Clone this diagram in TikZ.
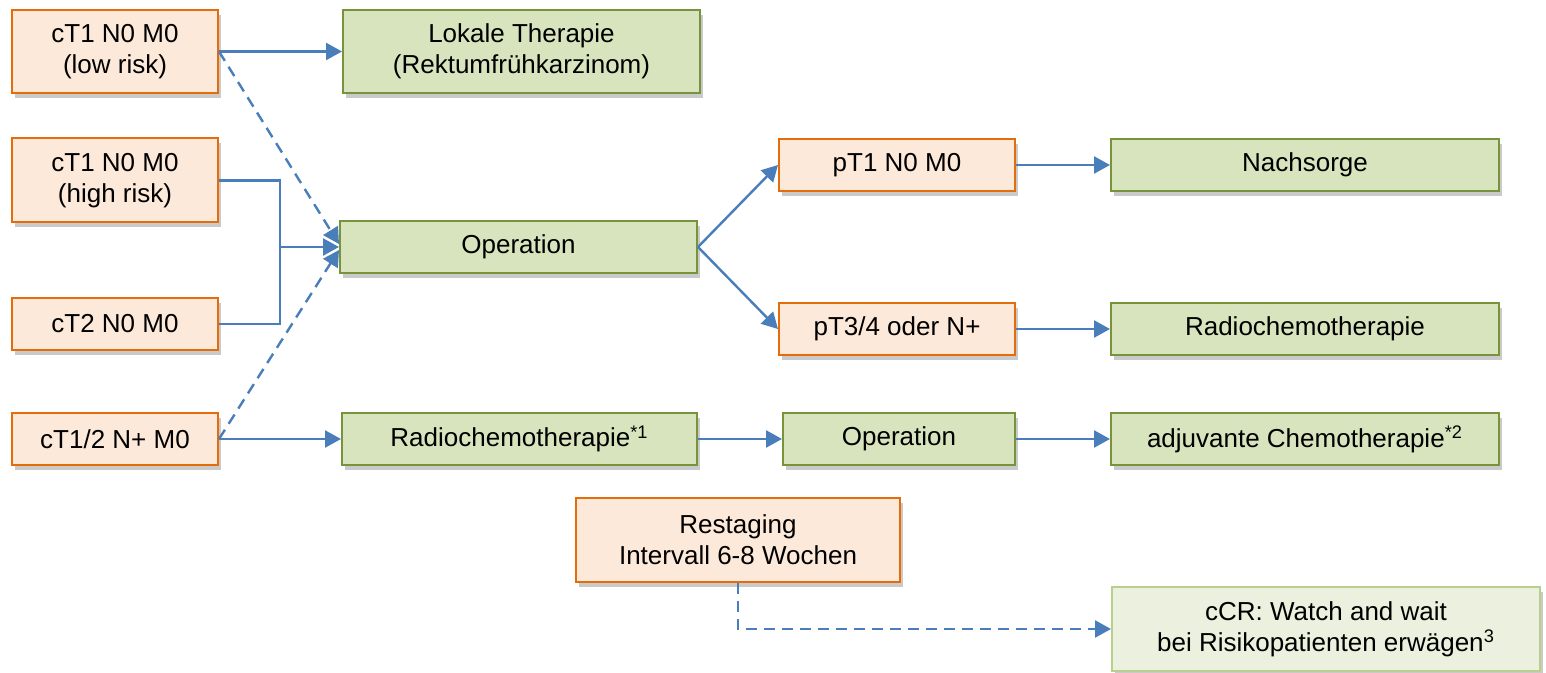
\documentclass[tikz,border=0pt]{standalone}
\usepackage{fontspec}
\setmainfont{Liberation Sans}
\usetikzlibrary{arrows.meta,shadows,positioning}
\definecolor{orfill}{HTML}{FDE9D9}
\definecolor{ordraw}{HTML}{E46C0A}
\definecolor{grfill}{HTML}{D7E4BD}
\definecolor{grdraw}{HTML}{77933C}
\definecolor{lgfill}{HTML}{EBF1DE}
\definecolor{lgdraw}{HTML}{B9CF8C}
\definecolor{arr}{HTML}{4A7EBB}
\tikzset{
  box/.style={rectangle, align=center, inner sep=0pt, line width=1pt,
    font=\fontsize{13}{15.5}\selectfont,
    drop shadow={shadow xshift=1.5pt, shadow yshift=-2.5pt, opacity=0.35, fill=black!60}},
  obox/.style={box, fill=orfill, draw=ordraw},
  gbox/.style={box, fill=grfill, draw=grdraw},
  lbox/.style={box, fill=lgfill, draw=lgdraw},
  conn/.style={draw=arr, line width=1.2pt, -{Triangle[length=8pt,width=8.5pt]}},
  plain/.style={draw=arr, line width=1.2pt},
  dconn/.style={conn, dash pattern=on 5.5pt off 3.5pt},
}
\begin{document}
\begin{tikzpicture}[x=0.5pt,y=-0.5pt]
\useasboundingbox (0,0) rectangle (1546,673);
% left column
\node[obox, minimum width=103pt, minimum height=41.5pt] (a1) at (115,51.5) {cT1 N0 M0\\(low risk)};
\node[obox, minimum width=103pt, minimum height=42pt] (a2) at (115,180.5) {cT1 N0 M0\\(high risk)};
\node[obox, minimum width=103pt, minimum height=26pt] (a3) at (115,324) {cT2 N0 M0};
\node[obox, minimum width=103pt, minimum height=26pt] (a4) at (115,439) {cT1/2 N+ M0};
% second column
\node[gbox, minimum width=178.5pt, minimum height=41.5pt] (lok) at (521.5,51.5) {Lokale Therapie\\(Rektumfrühkarzinom)};
\node[gbox, minimum width=178.5pt, minimum height=26pt] (op) at (518.5,247) {Operation};
\node[gbox, minimum width=177.5pt, minimum height=26pt] (rc1) at (519.5,439) {Radiochemotherapie\textsuperscript{*1}};
% third column
\node[obox, minimum width=118pt, minimum height=26pt] (pt1) at (897,165) {pT1 N0 M0};
\node[obox, minimum width=118pt, minimum height=26pt] (pt3) at (897,329) {pT3/4 oder N+};
\node[gbox, minimum width=116pt, minimum height=26pt] (op2) at (899,439) {Operation};
\node[obox, minimum width=162pt, minimum height=42pt] (rest) at (738,540) {Restaging\\Intervall 6-8 Wochen};
% fourth column
\node[gbox, minimum width=194pt, minimum height=26pt] (nach) at (1305,165) {Nachsorge};
\node[gbox, minimum width=194pt, minimum height=26pt] (rct) at (1305,329) {Radiochemotherapie};
\node[gbox, minimum width=194pt, minimum height=26pt] (adj) at (1305,439) {adjuvante Chemotherapie\textsuperscript{*2}};
\node[lbox, minimum width=214pt, minimum height=42pt] (ccr) at (1326,629) {cCR: Watch and wait\\bei Risikopatienten erwägen\textsuperscript{3}};
% connectors
\coordinate (j) at (280,247);
\draw[conn] (a1.east) -- (lok.west);
\draw[dconn] (a1.east) -- ([yshift=1.5pt]op.west);
\draw[plain] (a2.east) -| (j);
\draw[plain] (a3.east) -| (j);
\draw[conn] (j) -- (op.west);
\draw[dconn] (a4.east) -- ([yshift=-1.5pt]op.west);
\draw[conn] (a4.east) -- (rc1.west);
\draw[conn] (op.east) -- (pt1.west);
\draw[conn] (op.east) -- (pt3.west);
\draw[conn] (pt1.east) -- (nach.west);
\draw[conn] (pt3.east) -- (rct.west);
\draw[conn] (rc1.east) -- (op2.west);
\draw[conn] (op2.east) -- (adj.west);
\draw[dconn] (rest.south) |- (ccr.west);
\end{tikzpicture}
\end{document}
